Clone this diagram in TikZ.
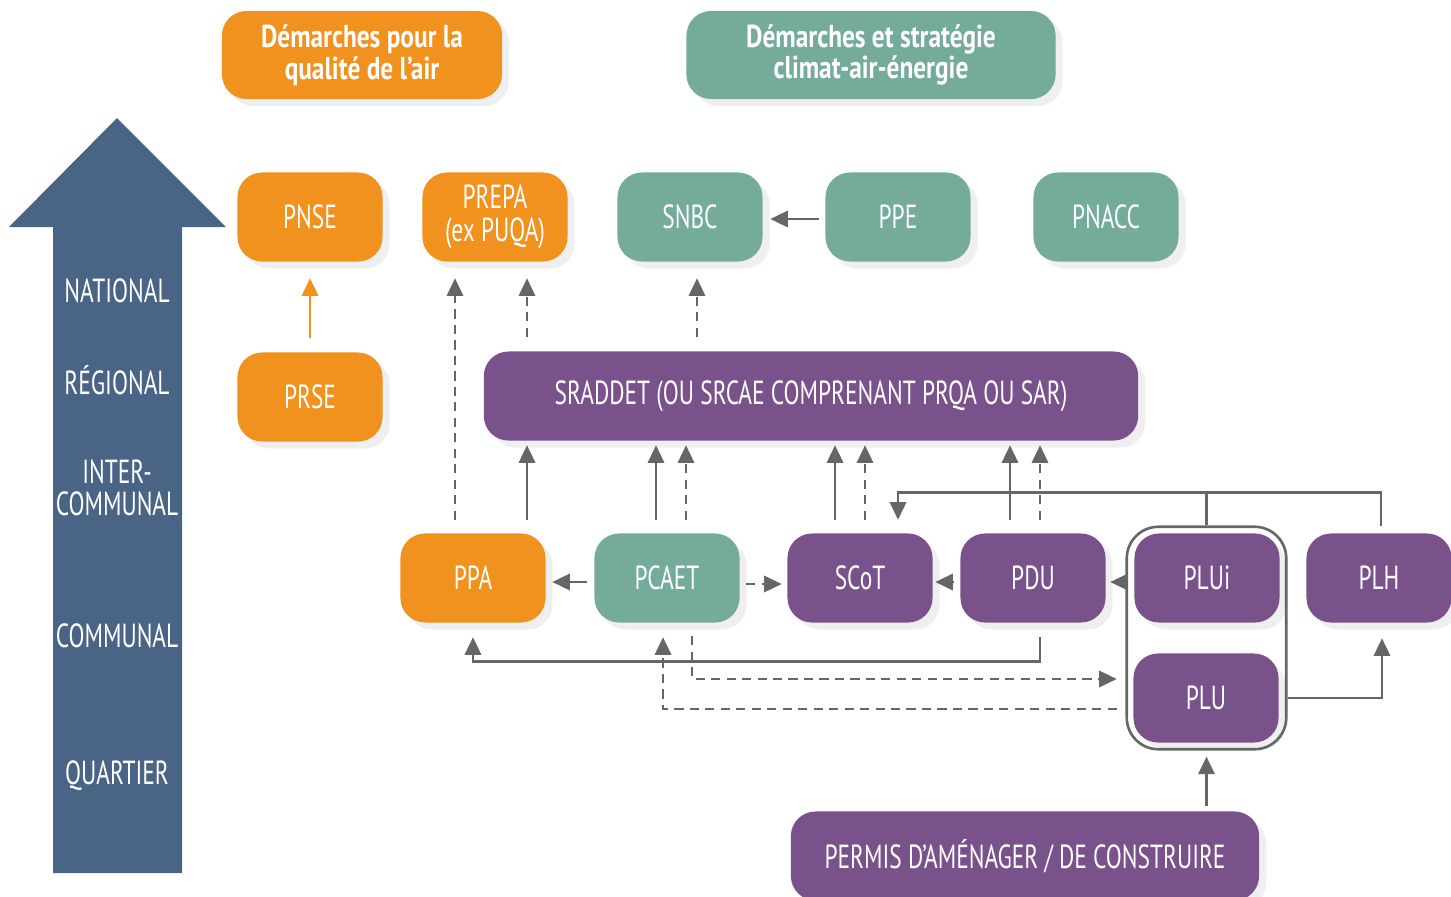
\documentclass[tikz,border=0pt]{standalone}
\usepackage{fontspec}
\setmainfont[FakeStretch=0.7]{PT Sans}
\newfontfamily\headfont[FakeStretch=0.8]{PT Sans}
\usetikzlibrary{arrows.meta, positioning, shadows, fit, calc}

\definecolor{airorange}{HTML}{F1911E}
\definecolor{climteal}{HTML}{74AB9B}
\definecolor{planviolet}{HTML}{79528B}
\definecolor{levelblue}{HTML}{4A6485}
\definecolor{linkgray}{HTML}{646667}

\begin{document}
\begin{tikzpicture}[
    x=0.01cm, y=-0.01cm,
    >={Triangle[length=5pt, width=4.6pt]},
    box/.style={rounded corners=7pt, minimum width=1.45cm, minimum height=0.89cm,
      text=white, align=center, inner sep=1pt,
      font=\fontsize{9.5}{9.3}\selectfont,
      drop shadow={shadow xshift=0.7mm, shadow yshift=-0.7mm, opacity=0.13}},
    air/.style={box, fill=airorange},
    clim/.style={box, fill=climteal},
    plan/.style={box, fill=planviolet},
    head/.style={box, minimum height=0.88cm, font=\headfont\bfseries\fontsize{9}{9}\selectfont},
    lvl/.style={text=white, align=center, font=\fontsize{9.5}{9}\selectfont},
    el/.style={->, draw=linkgray, line width=0.75pt},
    eld/.style={el, dash pattern=on 2.6pt off 1.8pt},
    gapv/.style={shorten <=0.14cm, shorten >=0.16cm},
    gapu/.style={shorten <=0.13cm, shorten >=0.04cm}
  ]
    \useasboundingbox (0,0) rectangle (1451,896);

    % level arrow
    \fill[levelblue] (53,873) -- (53,227) -- (9,227) -- (117,118) -- (226,227)
      -- (182,227) -- (182,873) -- cycle;
    \node[lvl] (lnat) at (117,291) {NATIONAL};
    \node[lvl] (lreg) at (117,380) {RÉGIONAL};
    \node[lvl] (linter) at (117,488) {INTER-\\COMMUNAL};
    \node[lvl] (lcom) at (117,636) {COMMUNAL};
    \node[lvl] (lquart) at (117,776) {QUARTIER};

    % headers
    \node[head, fill=airorange, minimum width=2.8cm] (hair) at (362,55)
      {Démarches pour la\\qualité de l’air};
    \node[head, fill=climteal, minimum width=3.69cm] (hclim) at (871,55)
      {Démarches et stratégie\\climat-air-énergie};

    % nodes
    \node[air] (pnse) at (310,217) {PNSE};
    \node[air] (prepa) at (495,217) {PREPA\\(ex PUQA)};
    \node[clim] (snbc) at (690,217) {SNBC};
    \node[clim] (ppe) at (898,217) {PPE};
    \node[clim] (pnacc) at (1106,217) {PNACC};
    \node[air] (prse) at (310,397) {PRSE};
    \node[plan, minimum width=6.54cm] (sraddet) at (811,396)
      {SRADDET (OU SRCAE COMPRENANT PRQA OU SAR)};
    \node[air] (ppa) at (473,578) {PPA};
    \node[clim] (pcaet) at (667,578) {PCAET};
    \node[plan] (scot) at (860,578) {SCoT};
    \node[plan] (pdu) at (1033,578) {PDU};
    \node[plan] (plui) at (1207,578) {PLUi};
    \node[plan] (plh) at (1379,578) {PLH};
    \node[plan] (plu) at (1206,698) {PLU};
    \node[plan, minimum width=4.68cm] (permis) at (1025,856)
      {PERMIS D’AMÉNAGER / DE CONSTRUIRE};
    \node[fit=(plui)(plu), draw=linkgray, line width=0.75pt, rounded corners=9pt,
      inner sep=0.06cm] (grp) {};

    % national level
    \draw[el, draw=airorange, gapv] (prse.north) -- (pnse.south);
    \draw[el, shorten <=0.06cm, shorten >=0.07cm] ($(ppe.west)+(0,2)$) -- ($(snbc.east)+(0,2)$);
    \draw[eld, gapv] ($(snbc.south |- sraddet.north)+(7,0)$) -- ($(snbc.south)+(7,0)$);
    \draw[eld, gapv] ($(prepa.south |- sraddet.north)+(32,0)$) -- ($(prepa.south)+(32,0)$);
    \draw[eld, shorten <=0.13cm, shorten >=0.16cm] ($(prepa.south |- ppa.north)+(-40,0)$)
      -- ($(prepa.south)+(-40,0)$);

    % up to sraddet
    \draw[el, gapu] ($(ppa.north)+(54,0)$) -- ($(ppa.north |- sraddet.south)+(54,0)$);
    \draw[el, gapu] ($(pcaet.north)+(-11,0)$) -- ($(pcaet.north |- sraddet.south)+(-11,0)$);
    \draw[eld, gapu] ($(pcaet.north)+(19,0)$) -- ($(pcaet.north |- sraddet.south)+(19,0)$);
    \draw[el, gapu] ($(scot.north)+(-25,0)$) -- ($(scot.north |- sraddet.south)+(-25,0)$);
    \draw[eld, gapu] ($(scot.north)+(5,0)$) -- ($(scot.north |- sraddet.south)+(5,0)$);
    \draw[el, gapu] ($(pdu.north)+(-23,0)$) -- ($(pdu.north |- sraddet.south)+(-23,0)$);
    \draw[eld, gapu] ($(pdu.north)+(7,0)$) -- ($(pdu.north |- sraddet.south)+(7,0)$);

    % local level
    \draw[el, shorten <=0.07cm, shorten >=0.06cm] ($(pcaet.west)+(0,4)$) -- ($(ppa.east)+(0,4)$);
    \draw[eld, shorten <=0.06cm, shorten >=0.05cm] ($(pcaet.east)+(0,6)$) -- ($(scot.west)+(0,6)$);
    \draw[el, shorten <=0.06cm, shorten >=0.02cm] ($(pdu.west)+(0,4)$) -- ($(scot.east)+(0,4)$);
    \draw[el, shorten >=0.04cm] (grp.west |- pdu.east) ++(0,4) -- ($(pdu.east)+(0,4)$);
    \draw[el] ($(plh.north)+(2,-7)$) |- ($(scot.north)+(38,-40)$) -- ++(0,27);
    \draw[el, -] (grp.north) -- ++(0,-32);
    \draw[el] ($(pdu.south)+(7,14)$) |- ($(ppa.south)+(0,38)$) -- ($(ppa.south)+(0,14)$);
    \draw[eld] ($(pcaet.south)+(25,13)$) |- ($(plu.west)+(-16,-19)$);
    \draw[eld] ($(plu.west)+(-16,11)$) -| ($(pcaet.south)+(-4,14)$);
    \draw[el] (grp.east |- plu.east) -| ($(plh.south)+(3,15)$);
    \draw[el, shorten <=0.05cm, shorten >=0.06cm] (grp.south |- permis.north) -- (grp.south);
\end{tikzpicture}
\end{document}
